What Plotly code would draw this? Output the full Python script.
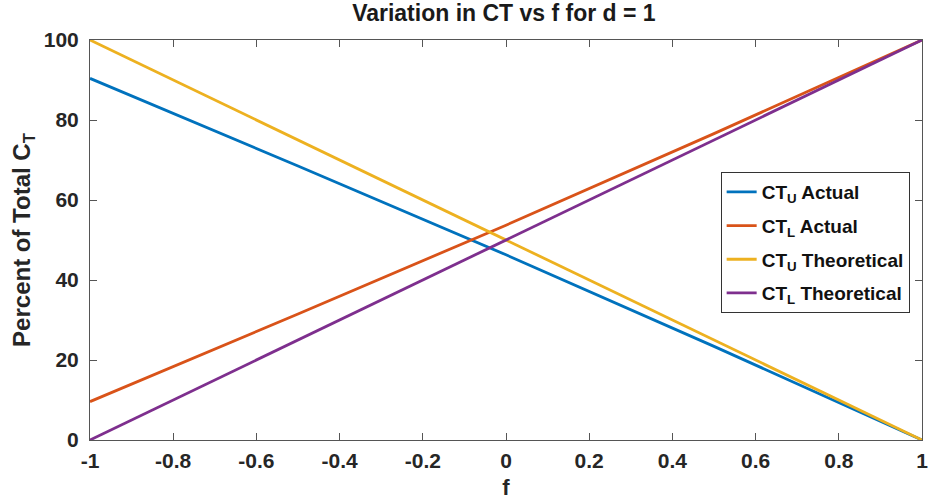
import plotly.graph_objects as go

f_actual = [-1.0, -0.5, 0.0, 0.5, 1.0]
ctu_actual = [90.4, 68.5, 46.3, 23.4, 0.0]
ctl_actual = [9.6, 31.5, 53.7, 76.6, 100.0]
f_theory = [-1.0, 1.0]
ctu_theory = [100.0, 0.0]
ctl_theory = [0.0, 100.0]

names = ["CT<sub>U</sub> Actual", "CT<sub>L</sub> Actual",
         "CT<sub>U</sub> Theoretical", "CT<sub>L</sub> Theoretical"]
colors = ["#0072BD", "#D95319", "#EDB120", "#7E2F8E"]

xticks = [-1, -0.8, -0.6, -0.4, -0.2, 0, 0.2, 0.4, 0.6, 0.8, 1]
yticks = [0, 20, 40, 60, 80, 100]

FONT = "Liberation Sans"

fig = go.Figure()
series = [(f_actual, ctu_actual), (f_actual, ctl_actual),
          (f_theory, ctu_theory), (f_theory, ctl_theory)]
for i, ((x, y), n, c) in enumerate(zip(series, names, colors)):
    fig.add_trace(go.Scatter(x=x, y=y, mode="lines", name=n, legendgroup="g%d" % i,
                             line=dict(color=c, width=2.8)))

axis_common = dict(showline=True, mirror="allticks", linecolor="#555555",
                   linewidth=1, ticks="inside", ticklen=7, tickcolor="#555555",
                   showgrid=False, zeroline=False, ticklabeloverflow="allow",
                   automargin=False,
                   tickfont=dict(size=21, color="#262626", family=FONT, weight="bold"))

fig.update_layout(
    width=928, height=503,
    margin=dict(l=90, r=6, t=40, b=63),
    paper_bgcolor="white", plot_bgcolor="white",
    font=dict(family=FONT, color="#262626", weight="bold"),
    title=dict(text="Variation in CT vs f for d = 1", x=0.543, xanchor="center",
               y=0.974, yanchor="middle",
               font=dict(size=23, family=FONT, color="#1a1a1a", weight="bold")),
    xaxis=dict(range=[-1, 1], tickvals=xticks,
               ticktext=[("%g" % v) for v in xticks],
               ticklabelstandoff=2,
               title=dict(text="f", standoff=8,
                          font=dict(size=22, family=FONT, color="#262626", weight="bold")),
               **axis_common),
    yaxis=dict(range=[0, 100], tickvals=yticks,
               ticklabelstandoff=6,
               title=dict(text="Percent of Total C<sub>T</sub>", standoff=6,
                          font=dict(size=24, family=FONT, color="#262626", weight="bold")),
               **axis_common),
    legend=dict(x=0.758, y=0.67, xanchor="left", yanchor="top",
                bordercolor="#333333", borderwidth=1, bgcolor="white",
                font=dict(size=19, family=FONT, color="#111111", weight="bold"),
                itemwidth=30, tracegroupgap=6),
    showlegend=True,
)

fig.write_html("out.html")
